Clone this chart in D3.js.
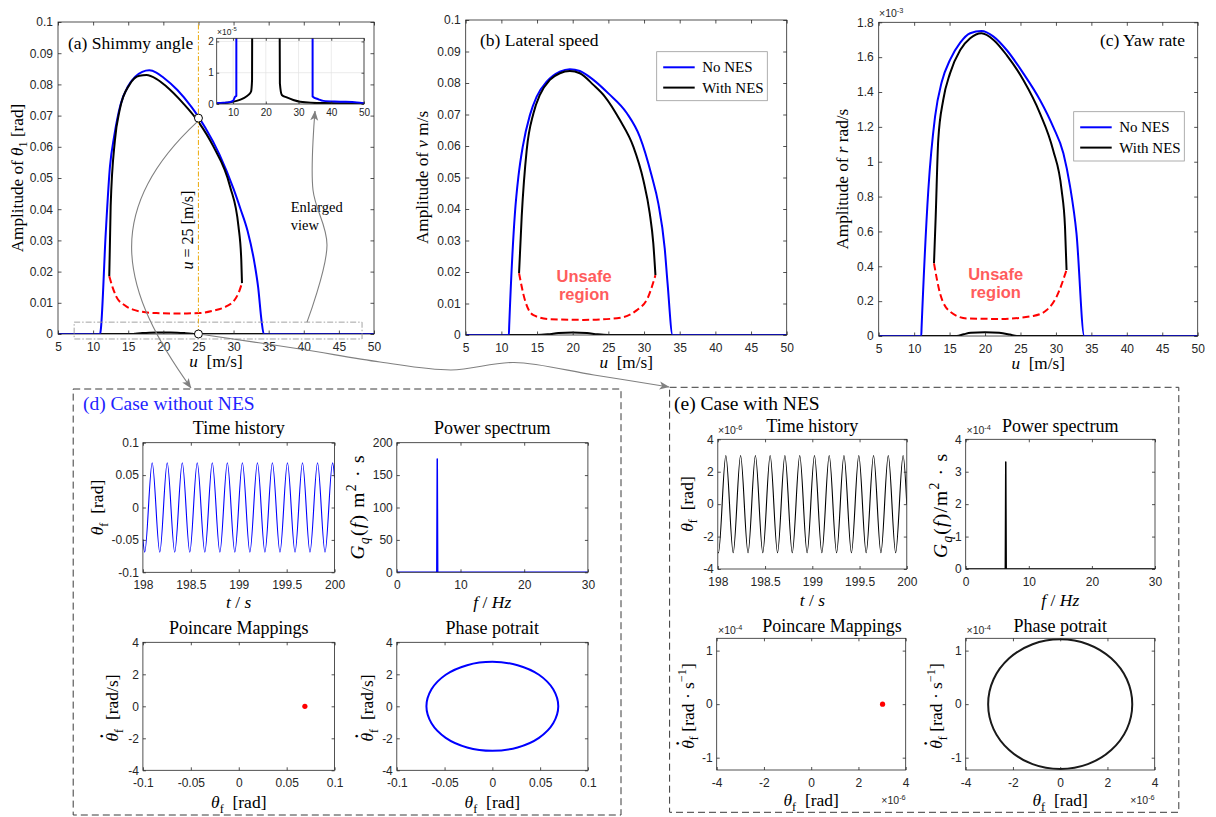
<!DOCTYPE html>
<html>
<head>
<meta charset="utf-8">
<title>Shimmy suppression with NES</title>
<script src="https://cdn.jsdelivr.net/npm/d3@7/dist/d3.min.js"></script>
<style>
  html, body { margin: 0; padding: 0; background: #fff; }
  svg { display: block; }
  text { white-space: pre; }
</style>
</head>
<body>
<script>
// ================= data =================
const speedTicks = [5, 10, 15, 20, 25, 30, 35, 40, 45, 50];
const amplitudeTicks = [0, 0.01, 0.02, 0.03, 0.04, 0.05, 0.06, 0.07, 0.08, 0.09, 0.1];
const yawTicks = [0, 0.2, 0.4, 0.6, 0.8, 1, 1.2, 1.4, 1.6, 1.8];       // x 1e-3
const insetSpeedTicks = [10, 20, 30, 40, 50];
const insetAmpTicks = [0, 1, 2];                                          // x 1e-5

// (a) shimmy angle amplitude [rad] vs forward speed u [m/s]
const shimmyNoNES_u   = [5, 7, 9, 10, 10.6, 11.0, 11.1, 11.8, 12.4, 13.0, 13.9, 15.0, 16.0, 17.0, 18.0, 19.0, 20.0, 22.0, 24.0, 25.0, 26.0, 28.0, 30.0, 31.0, 32.0, 33.0, 33.5, 34.0, 34.3, 36.1, 37.6, 42.7, 47.8, 50];
const shimmyNoNES_amp = [3e-7, 4e-7, 6e-7, 1.0e-6, 2.3e-6, 2.6e-6, 0.0015, 0.0324, 0.0537, 0.0634, 0.0735, 0.0795, 0.0825, 0.0840, 0.0845, 0.0838, 0.0822, 0.0782, 0.0728, 0.0696, 0.0660, 0.0575, 0.0465, 0.0400, 0.0330, 0.0225, 0.0150, 0.0040, 2.4e-6, 1.5e-6, 1.0e-6, 7.5e-7, 5e-7, 2e-7];
const shimmyNES_u     = [12.3, 12.5, 13.1, 13.8, 15.2, 16.6, 17.6, 19.0, 20.4, 22.8, 25.0, 27.1, 29.5, 30.7, 31.1, 31.2];
const shimmyNES_amp   = [0.0185, 0.0410, 0.0620, 0.0720, 0.0800, 0.0828, 0.0830, 0.0818, 0.0794, 0.0740, 0.0680, 0.0602, 0.0473, 0.0345, 0.0238, 0.0163];
const shimmyUnstable_u   = [12.3, 12.8, 13.3, 14.5, 15.7, 17, 19, 21, 23, 25.2, 27, 29, 30, 30.7, 31.2];
const shimmyUnstable_amp = [0.0185, 0.0148, 0.0120, 0.0092, 0.0078, 0.0071, 0.0067, 0.0066, 0.0066, 0.0067, 0.0074, 0.0089, 0.0105, 0.0131, 0.0163];
const shimmyNESlow_u   = [5, 8, 11.1, 13.1, 14.7, 15.5, 15.8, 16.0, 17, 18, 19, 20, 21, 22, 23, 24, 24.3, 24.9, 26.4, 28.4, 30.5, 37.6, 47.8, 50];
const shimmyNESlow_amp = [0, 4e-7, 1e-6, 1.8e-6, 2.9e-6, 4e-6, 7.7e-6, 1e-4, 3e-4, 4.4e-4, 5e-4, 5.2e-4, 5e-4, 4.4e-4, 3e-4, 1e-4, 6.6e-6, 2.9e-6, 2.1e-6, 1.3e-6, 7.5e-7, 3e-7, 2e-7, 1e-7];
const markedSpeed = 25;
const markedAmp = [0.0692, 0];
const enlargedWindow_u = [7.3, 48.3];
const enlargedWindow_amp = [-0.0016, 0.0038];

// (b) lateral speed amplitude [m/s]
const latNoNES_u   = [5, 11.05, 11.1, 11.9, 12.4, 13.0, 14.0, 14.95, 16.35, 18.2, 19.6, 21.0, 22.9, 25.0, 27.6, 29.4, 31.1, 32.0, 32.9, 33.3, 34.0, 50];
const latNoNES_amp = [0, 0, 0.003, 0.0386, 0.0505, 0.0598, 0.0698, 0.0757, 0.0804, 0.0836, 0.0844, 0.0838, 0.0810, 0.0767, 0.0704, 0.0630, 0.0503, 0.0418, 0.0275, 0.0164, 0, 0];
const latNES_u     = [12.48, 12.85, 13.55, 14.5, 15.4, 16.8, 18.2, 19.6, 21.0, 22.9, 24.5, 26.6, 28.5, 29.9, 30.8, 31.3, 31.6];
const latNES_amp   = [0.0196, 0.0376, 0.0587, 0.0704, 0.0762, 0.0810, 0.0831, 0.0838, 0.0831, 0.0794, 0.0757, 0.0683, 0.0598, 0.0492, 0.0386, 0.0291, 0.0190];
const latUnstable_u   = [12.48, 13.3, 14.5, 16.8, 21.5, 26.2, 29.0, 30.6, 31.6];
const latUnstable_amp = [0.0196, 0.0111, 0.0063, 0.0050, 0.0048, 0.0053, 0.0079, 0.0122, 0.0190];
const latNESlow_u   = [5, 15, 16.5, 18, 20, 22, 23.5, 25, 50];
const latNESlow_amp = [0, 0, 0.0002, 0.0006, 0.0008, 0.0006, 0.0002, 0, 0];

// (c) yaw rate amplitude [x 1e-3 rad/s]
const yawNoNES_u   = [5, 11.0, 11.05, 12.0, 12.95, 13.9, 15.06, 16.5, 17.9, 19.5, 21.2, 23.05, 25.4, 27.75, 29.6, 31.05, 32.0, 32.9, 34.0, 50];
const yawNoNES_amp = [0, 0, 0.05, 0.838, 1.259, 1.459, 1.584, 1.683, 1.737, 1.750, 1.718, 1.641, 1.507, 1.354, 1.201, 1.048, 0.857, 0.589, 0, 0];
const yawNES_u     = [12.8, 13.04, 13.4, 14.1, 15.06, 16.5, 17.9, 19.5, 21.2, 23.05, 25.4, 27.75, 29.6, 30.8, 31.28, 31.5];
const yawNES_amp   = [0.417, 0.685, 1.125, 1.354, 1.507, 1.641, 1.708, 1.737, 1.699, 1.612, 1.469, 1.278, 1.067, 0.838, 0.627, 0.379];
const yawUnstable_u   = [12.8, 13.65, 15.06, 17.4, 22.1, 26.8, 28.7, 30.1, 31.5];
const yawUnstable_amp = [0.417, 0.245, 0.140, 0.101, 0.098, 0.115, 0.149, 0.226, 0.379];
const yawNESlow_u   = [5, 16, 17, 18, 20, 22, 23.5, 24.5, 50];
const yawNESlow_amp = [0, 0, 0.01, 0.018, 0.022, 0.018, 0.008, 0, 0];

// (d) u = 25 m/s without NES
const timeTicks = [198, 198.5, 199, 199.5, 200];
const freqTicks = [0, 10, 20, 30];
const thetaTicksD = [-0.1, -0.05, 0, 0.05, 0.1];
const powerTicksD = [0, 50, 100, 150, 200];
const rateTicksD = [-4, -2, 0, 2, 4];
// time history: samples at the turning points of the response
const thetaNoNES_t = [198, 198.019, 198.097, 198.176, 198.254, 198.332, 198.411, 198.489, 198.567, 198.646, 198.724, 198.803, 198.881, 198.959, 199.038, 199.116, 199.195, 199.273, 199.351, 199.430, 199.508, 199.587, 199.665, 199.743, 199.822, 199.900, 199.979, 200];
const thetaNoNES_v = [-0.049, -0.069, 0.069, -0.069, 0.069, -0.069, 0.069, -0.069, 0.069, -0.069, 0.069, -0.069, 0.069, -0.069, 0.069, -0.069, 0.069, -0.069, 0.069, -0.069, 0.069, -0.069, 0.069, -0.069, 0.069, -0.069, 0.069, 0.046];
const specNoNES_f = [0, 6.28, 6.35, 6.42, 30];
const specNoNES_G = [0, 0, 175, 0, 0];
const poincNoNES_theta = [0.069];
const poincNoNES_rate = [0];
const phaseNoNES_theta = [0.069, 0.0637, 0.0488, 0.0264, 0, -0.0264, -0.0488, -0.0637, -0.069, -0.0637, -0.0488, -0.0264, 0, 0.0264, 0.0488, 0.0637];
const phaseNoNES_rate  = [0, -1.06, -1.97, -2.57, -2.78, -2.57, -1.97, -1.06, 0, 1.06, 1.97, 2.57, 2.78, 2.57, 1.97, 1.06];

// (e) u = 25 m/s with NES (theta in 1e-6 rad, rate in 1e-4 rad/s, power in 1e-4)
const thetaTicksE = [-4, -2, 0, 2, 4];
const powerTicksE = [0, 1, 2, 3, 4];
const rateTicksE = [-1, 0, 1];
const thetaNES_t = [198, 198.007, 198.085, 198.163, 198.241, 198.320, 198.398, 198.476, 198.554, 198.632, 198.710, 198.788, 198.867, 198.945, 199.023, 199.101, 199.179, 199.257, 199.335, 199.414, 199.492, 199.570, 199.648, 199.726, 199.804, 199.882, 199.961, 200];
const thetaNES_v = [-2.98, -3.0, 3.0, -3.0, 3.0, -3.0, 3.0, -3.0, 3.0, -3.0, 3.0, -3.0, 3.0, -3.0, 3.0, -3.0, 3.0, -3.0, 3.0, -3.0, 3.0, -3.0, 3.0, -3.0, 3.0, -3.0, 3.0, 0];
const specNES_f = [0, 6.28, 6.35, 6.42, 30];
const specNES_G = [0, 0, 3.3, 0, 0];
const poincNES_theta = [3.02];
const poincNES_rate = [0];
const phaseNES_theta = [3.05, 2.82, 2.16, 1.17, 0, -1.17, -2.16, -2.82, -3.05, -2.82, -2.16, -1.17, 0, 1.17, 2.16, 2.82];
const phaseNES_rate  = [0, -0.465, -0.856, -1.12, -1.21, -1.12, -0.856, -0.465, 0, 0.465, 0.856, 1.12, 1.21, 1.12, 0.856, 0.465];

// ================= drawing =================
const AX = "#262626";
const BLUE = "#0000ff";
const RED = "#ff0000";
const GRAY = "#808080";
const SERIF = '"Liberation Serif","Times New Roman",Times,serif';
const SANS = '"Liberation Sans",Arial,Helvetica,sans-serif';

const svg = d3.select("body").append("svg")
  .attr("width", 1216).attr("height", 817);
const defs = svg.append("defs");
defs.append("marker").attr("id", "arrowHead")
  .attr("viewBox", "0 0 10 10").attr("refX", 9.5).attr("refY", 5)
  .attr("markerWidth", 10).attr("markerHeight", 10)
  .attr("markerUnits", "userSpaceOnUse").attr("orient", "auto")
  .append("path").attr("d", "M0,1L10,5L0,9L2.5,5Z").attr("fill", GRAY);

let clipCount = 0;
function clipFor(x, y) {
  const id = "clip" + (clipCount++);
  const [x0, x1] = x.range(), [y0, y1] = y.range();
  defs.append("clipPath").attr("id", id).append("rect")
    .attr("x", x0).attr("y", y1).attr("width", x1 - x0).attr("height", y0 - y1);
  return `url(#${id})`;
}

// text with italic / sub / superscript pieces; a piece is "text" or [text, flags, dx, dy, scale]
function rich(parent, x, y, parts, size, o = {}) {
  const t = parent.append("text").attr("x", x).attr("y", y)
    .attr("font-family", o.family || SERIF).attr("font-size", size)
    .attr("text-anchor", o.anchor || "middle").attr("fill", o.fill || "#000");
  if (o.bold) t.attr("font-weight", "bold");
  if (o.rotate) t.attr("transform", `rotate(-90 ${x} ${y})`);
  if (o.len) t.attr("textLength", o.len).attr("lengthAdjust", "spacing");
  let off = 0;
  for (const p of parts) {
    const [s, st = "", dx = 0, ddy = 0, scale = 1] = Array.isArray(p) ? p : [p];
    const flags = st.split(" ");
    const ts = t.append("tspan").text(s);
    let target = ddy;
    if (flags.includes("sub")) target += size * 0.28;
    if (flags.includes("sup")) target -= size * 0.42;
    if (target !== off) ts.attr("dy", target - off);
    off = target;
    if (dx) ts.attr("dx", dx);
    if (flags.includes("sub") || flags.includes("sup")) ts.attr("font-size", size * 0.7);
    else if (scale !== 1) ts.attr("font-size", size * scale);
    if (flags.includes("i")) ts.attr("font-style", "italic");
  }
  return t;
}

function expLabel(parent, x, y, exp, size = 10.5, anchor = "start") {
  return rich(parent, x, y, ["\u00d710", [exp, "sup"]], size, { family: SANS, anchor, fill: AX });
}

// MATLAB-like box with inward ticks on all four sides
function axesBox(g, x, y, xt, yt, o = {}) {
  const tl = o.tl ?? 3.5, fs = o.fs ?? 12;
  const fmt = d => String(d);
  const [x0, x1] = x.range(), [y0, y1] = y.range();
  const parts = [
    g.append("g").attr("transform", `translate(0,${y0})`)
      .call(d3.axisBottom(x).tickValues(xt).tickFormat(fmt).tickSizeInner(-tl).tickSizeOuter(0).tickPadding(o.xpad ?? 8)),
    g.append("g").attr("transform", `translate(0,${y1})`)
      .call(d3.axisTop(x).tickValues(xt).tickFormat("").tickSizeInner(-tl).tickSizeOuter(0)),
    g.append("g").attr("transform", `translate(${x0},0)`)
      .call(d3.axisLeft(y).tickValues(yt).tickFormat(fmt).tickSizeInner(-tl).tickSizeOuter(0).tickPadding(o.ypad ?? 5)),
    g.append("g").attr("transform", `translate(${x1},0)`)
      .call(d3.axisRight(y).tickValues(yt).tickFormat("").tickSizeInner(-tl).tickSizeOuter(0))
  ];
  parts.forEach(a => {
    a.select(".domain").remove();
    a.attr("font-family", SANS).attr("font-size", fs);
    a.selectAll(".tick line").attr("stroke", AX).attr("stroke-width", 0.8);
    a.selectAll(".tick text").attr("fill", AX);
  });
  g.append("rect").attr("x", x0).attr("y", y1).attr("width", x1 - x0).attr("height", y0 - y1)
    .attr("fill", "none").attr("stroke", AX).attr("stroke-width", 0.8);
}

function curvePath(g, x, y, xs, ys, o) {
  const line = d3.line().x(d => x(d[0])).y(d => y(d[1])).curve(o.curve || d3.curveMonotoneX);
  return g.append("path").attr("d", line(d3.zip(xs, ys)))
    .attr("fill", "none").attr("stroke", o.color).attr("stroke-width", o.w ?? 2)
    .attr("stroke-dasharray", o.dash || null)
    .attr("stroke-linejoin", "round").attr("clip-path", o.clip || null);
}

function legend(g, bx, by, bw, bh, items) {
  g.append("rect").attr("x", bx).attr("y", by).attr("width", bw).attr("height", bh)
    .attr("fill", "#fff").attr("stroke", "#9a9a9a").attr("stroke-width", 0.8);
  items.forEach((it, i) => {
    const ly = by + 15.6 + i * 20.3;
    g.append("line").attr("x1", bx + 6.5).attr("x2", bx + 38).attr("y1", ly).attr("y2", ly)
      .attr("stroke", it.color).attr("stroke-width", 2);
    g.append("text").attr("x", bx + 45.5).attr("y", ly + 5).attr("font-family", SERIF)
      .attr("font-size", 15).attr("fill", "#000").text(it.label);
  });
}

// ---------- top row: amplitude vs speed ----------
function speedPanel(cfg) {
  const g = svg.append("g");
  const x = d3.scaleLinear().domain([5, 50]).range([cfg.x0, cfg.x1]);
  const y = d3.scaleLinear().domain(cfg.ydom).range([cfg.yb, cfg.yt]);
  const clip = clipFor(x, y);
  curvePath(g, x, y, cfg.low[0], cfg.low[1], { color: "#000", clip });
  curvePath(g, x, y, cfg.noNES[0], cfg.noNES[1], { color: BLUE, clip });
  curvePath(g, x, y, cfg.withNES[0], cfg.withNES[1], { color: "#000", clip });
  curvePath(g, x, y, cfg.unstable[0], cfg.unstable[1], { color: RED, dash: "7,3.5", clip });
  axesBox(g, x, y, speedTicks, cfg.yticks);
  rich(g, (cfg.x0 + cfg.x1) / 2, cfg.yb + 33, [["u", "i"], "  [m/s]"], 17.2);
  rich(g, cfg.ylabX, (cfg.yb + cfg.yt) / 2, cfg.ylab, 17.2, { rotate: true });
  return { g, x, y };
}

const A = speedPanel({
  x0: 58, x1: 374, yb: 334, yt: 22, ydom: [0, 0.1], yticks: amplitudeTicks, ylabX: 22.6,
  ylab: ["Amplitude of ", ["\u03b8", "i"], ["1", "sub"], " [rad]"],
  low: [shimmyNESlow_u, shimmyNESlow_amp], noNES: [shimmyNoNES_u, shimmyNoNES_amp],
  withNES: [shimmyNES_u, shimmyNES_amp], unstable: [shimmyUnstable_u, shimmyUnstable_amp]
});
const B = speedPanel({
  x0: 465.7, x1: 786.7, yb: 335, yt: 20, ydom: [0, 0.1], yticks: amplitudeTicks, ylabX: 427.5,
  ylab: ["Amplitude of ", ["v", "i"], " m/s"],
  low: [latNESlow_u, latNESlow_amp], noNES: [latNoNES_u, latNoNES_amp],
  withNES: [latNES_u, latNES_amp], unstable: [latUnstable_u, latUnstable_amp]
});
const C = speedPanel({
  x0: 878.7, x1: 1197.7, yb: 336, yt: 22.3, ydom: [0, 1.8], yticks: yawTicks, ylabX: 848,
  ylab: ["Amplitude of ", ["r", "i"], " rad/s"],
  low: [yawNESlow_u, yawNESlow_amp], noNES: [yawNoNES_u, yawNoNES_amp],
  withNES: [yawNES_u, yawNES_amp], unstable: [yawUnstable_u, yawUnstable_amp]
});
expLabel(C.g, 879, 17, "-3");

// panel titles
rich(A.g, 68, 49, ["(a) Shimmy angle"], 17.5, { anchor: "start" });
rich(B.g, 480, 46, ["(b) Lateral speed"], 17.5, { anchor: "start" });
rich(C.g, 1185, 46, ["(c) Yaw rate"], 17.5, { anchor: "end" });

// legends
legend(B.g, 656.7, 51.7, 110.6, 49, [{ label: "No NES", color: BLUE }, { label: "With NES", color: "#000" }]);
legend(C.g, 1073.7, 111.7, 110.6, 49.3, [{ label: "No NES", color: BLUE }, { label: "With NES", color: "#000" }]);

// unstable-branch annotations
[[B, 21.6, 0.0168], [C, 21.5, 0.321]].forEach(([P, u, a]) => {
  const t = P.g.append("text").attr("x", P.x(u)).attr("y", P.y(a))
    .attr("font-family", SANS).attr("font-weight", "bold").attr("font-size", 16.5)
    .attr("fill", "#ff5c5c").attr("text-anchor", "middle");
  t.append("tspan").attr("x", P.x(u)).text("Unsafe");
  t.append("tspan").attr("x", P.x(u)).attr("dy", 18).text("region");
});

// (a): u = 25 m/s marker line, enlarged window and inset
A.g.append("line").attr("x1", A.x(markedSpeed)).attr("x2", A.x(markedSpeed))
  .attr("y1", A.y(0)).attr("y2", A.y(0.1))
  .attr("stroke", "#EDB120").attr("stroke-width", 1.1).attr("stroke-dasharray", "5,2,1.5,2");
rich(A.g, 193, 230, [["u", "i"], " = 25 [m/s]"], 16, { rotate: true });

A.g.append("rect")
  .attr("x", A.x(enlargedWindow_u[0])).attr("y", A.y(enlargedWindow_amp[1]))
  .attr("width", A.x(enlargedWindow_u[1]) - A.x(enlargedWindow_u[0]))
  .attr("height", A.y(enlargedWindow_amp[0]) - A.y(enlargedWindow_amp[1]))
  .attr("fill", "none").attr("stroke", "#9a9a9a").attr("stroke-width", 0.9)
  .attr("stroke-dasharray", "6,2,1.5,2");

rich(A.g, 290.7, 211.7, ["Enlarged"], 14.5, { anchor: "start" });
rich(A.g, 290.7, 230, ["view"], 14.5, { anchor: "start" });

// inset: low-amplitude branches magnified (x 1e-5 rad)
{
  const g = A.g.append("g");
  const x = d3.scaleLinear().domain([5, 50]).range([216.7, 364]);
  const y = d3.scaleLinear().domain([0, 2.1]).range([104, 38.3]);
  g.append("rect").attr("x", 216.7).attr("y", 38.3).attr("width", 364 - 216.7).attr("height", 104 - 38.3).attr("fill", "#fff");
  insetSpeedTicks.forEach(v => g.append("line").attr("x1", x(v)).attr("x2", x(v)).attr("y1", y(0)).attr("y2", y(2.1))
    .attr("stroke", "#e3e3e3").attr("stroke-width", 0.7));
  insetAmpTicks.forEach(v => g.append("line").attr("x1", x(5)).attr("x2", x(50)).attr("y1", y(v)).attr("y2", y(v))
    .attr("stroke", "#e3e3e3").attr("stroke-width", 0.7));
  const clip = clipFor(x, y);
  const s = arr => arr.map(v => v * 1e5);
  curvePath(g, x, y, shimmyNESlow_u, s(shimmyNESlow_amp), { color: "#000", clip });
  curvePath(g, x, y, shimmyNES_u, s(shimmyNES_amp), { color: "#000", clip });
  curvePath(g, x, y, shimmyNoNES_u, s(shimmyNoNES_amp), { color: BLUE, clip });
  axesBox(g, x, y, insetSpeedTicks, insetAmpTicks, { tl: 2.5, fs: 10, xpad: 5, ypad: 3 });
  expLabel(g, 217, 35, "-5", 8.5);
}

// marked operating points
markedAmp.forEach(a => {
  A.g.append("circle").attr("cx", A.x(markedSpeed)).attr("cy", A.y(a)).attr("r", 4)
    .attr("fill", "#fff").attr("stroke", "#000").attr("stroke-width", 1);
});

// ---------- bottom row: response at u = 25 m/s ----------
function dashedBox(x0, y0, x1, y1) {
  svg.append("rect").attr("x", x0).attr("y", y0).attr("width", x1 - x0).attr("height", y1 - y0)
    .attr("fill", "none").attr("stroke", "#3a3a3a").attr("stroke-width", 1).attr("stroke-dasharray", "7,4");
}
dashedBox(73.2, 389, 621, 815);
dashedBox(669.6, 387.3, 1178.8, 812.3);
rich(svg, 83, 410, ["(d) Case without NES"], 19.5, { anchor: "start", fill: "#1f1fff" });
rich(svg, 674, 410, ["(e) Case with NES"], 19.5, { anchor: "start" });

function subPlot(cfg) {
  const g = svg.append("g");
  const x = d3.scaleLinear().domain(cfg.xdom).range([cfg.x0, cfg.x1]);
  const y = d3.scaleLinear().domain(cfg.ydom).range([cfg.yb, cfg.yt]);
  const clip = clipFor(x, y);
  if (cfg.line) curvePath(g, x, y, cfg.line[0], cfg.line[1], { color: cfg.color, w: cfg.w, curve: cfg.curve, clip });
  if (cfg.dots) d3.zip(cfg.dots[0], cfg.dots[1]).forEach(d =>
    g.append("circle").attr("cx", x(d[0])).attr("cy", y(d[1])).attr("r", 2.6).attr("fill", RED));
  axesBox(g, x, y, cfg.xt, cfg.yt_, { tl: 3, xpad: 8, ypad: 4 });
  rich(g, cfg.titleX ?? (cfg.x0 + cfg.x1) / 2, cfg.titleY, [cfg.title], 18);
  rich(g, (cfg.x0 + cfg.x1) / 2, cfg.xlabY, cfg.xlab, 17.5);
  rich(g, cfg.ylabX, cfg.ylabY ?? (cfg.yb + cfg.yt) / 2, cfg.ylab, cfg.ylabSize ?? 17.5, { rotate: true, len: cfg.ylabLen });
  return { g, x, y };
}

const thetaLab = [["\u03b8", "i"], ["f", "sub"], "  [rad]"];
const tLab = [["t", "i"], " / ", ["s", "i"]];
const fLab = [["f", "i"], " / ", ["Hz", "i"]];
// theta with a dot above (time derivative)
const thetaDot = [["\u03b8", "i"], ["\u02d9", "", -7.2, -1, 1.4]];
const rateLabD = [...thetaDot, ["f", "sub", -0.9], "  [rad/s]"];
const rateLabE = [...thetaDot, ["f", "sub", -0.9], " [rad \u00b7 s", ["\u22121", "sup"], "]"];

// (d)
subPlot({ x0: 142.9, x1: 334.6, yb: 572.3, yt: 442.7, xdom: [198, 200], ydom: [-0.1, 0.1],
  xt: timeTicks, yt_: thetaTicksD, line: [thetaNoNES_t, thetaNoNES_v], color: BLUE, w: 1.1,
  title: "Time history", titleY: 434, xlab: tLab, xlabY: 608, ylab: thetaLab, ylabX: 103 });
subPlot({ x0: 396.8, x1: 587.9, yb: 572.3, yt: 442.7, xdom: [0, 30], ydom: [0, 200],
  xt: freqTicks, yt_: powerTicksD, line: [specNoNES_f, specNoNES_G], color: BLUE, w: 1.5, curve: d3.curveLinear,
  title: "Power spectrum", titleY: 434, xlab: fLab, xlabY: 608,
  ylab: [["G", "i"], ["q", "i sub"], "(", ["f", "i"], ") m", ["2", "sup"], " \u00b7 s"], ylabX: 364, ylabSize: 19.5, ylabLen: 104 });
subPlot({ x0: 142.9, x1: 334.6, yb: 770.3, yt: 642.3, xdom: [-0.1, 0.1], ydom: [-4, 4],
  xt: thetaTicksD, yt_: rateTicksD, dots: [poincNoNES_theta, poincNoNES_rate],
  title: "Poincare Mappings", titleY: 634, xlab: thetaLab, xlabY: 808, ylab: rateLabD, ylabX: 118, ylabY: 708 });
subPlot({ x0: 396.8, x1: 587.9, yb: 770.3, yt: 642.3, xdom: [-0.1, 0.1], ydom: [-4, 4],
  xt: thetaTicksD, yt_: rateTicksD, line: [phaseNoNES_theta, phaseNoNES_rate], color: BLUE, w: 2,
  curve: d3.curveCatmullRomClosed,
  title: "Phase potrait", titleY: 634, xlab: thetaLab, xlabY: 808, ylab: rateLabD, ylabX: 373, ylabY: 708 });

// (e)
const eT = subPlot({ x0: 717.8, x1: 906.8, yb: 569, yt: 439.3, xdom: [198, 200], ydom: [-4, 4],
  xt: timeTicks, yt_: thetaTicksE, line: [thetaNES_t, thetaNES_v], color: "#000", w: 1.1,
  title: "Time history", titleY: 432, xlab: tLab, xlabY: 606, ylab: thetaLab, ylabX: 692.5, ylabY: 504 });
expLabel(eT.g, 718, 434, "-6");
const eP = subPlot({ x0: 965.7, x1: 1155, yb: 569, yt: 439.3, xdom: [0, 30], ydom: [0, 4],
  xt: freqTicks, yt_: powerTicksE, line: [specNES_f, specNES_G], color: "#000", w: 1.5, curve: d3.curveLinear,
  title: "Power spectrum", titleY: 432, xlab: fLab, xlabY: 606,
  ylab: [["G", "i"], ["q", "i sub"], "(", ["f", "i"], ")/m", ["2", "sup"], " \u00b7 s"], ylabX: 947, ylabY: 506, ylabSize: 19.5, ylabLen: 104 });
expLabel(eP.g, 966.5, 434, "-4");
const eM = subPlot({ x0: 716.7, x1: 905.7, yb: 770, yt: 638.3, xdom: [-4, 4], ydom: [-1.23, 1.23],
  xt: thetaTicksE, yt_: rateTicksE, dots: [poincNES_theta, poincNES_rate],
  title: "Poincare Mappings", titleX: 832, titleY: 632, xlab: thetaLab, xlabY: 806, ylab: rateLabE, ylabX: 693.5, ylabY: 706 });
expLabel(eM.g, 718, 634, "-4");
expLabel(eM.g, 905.7, 804, "-6", 10.5, "end");
const eF = subPlot({ x0: 965.7, x1: 1154.7, yb: 770, yt: 638.3, xdom: [-4, 4], ydom: [-1.23, 1.23],
  xt: thetaTicksE, yt_: rateTicksE, line: [phaseNES_theta, phaseNES_rate], color: "#1a1a1a", w: 2,
  curve: d3.curveCatmullRomClosed,
  title: "Phase potrait", titleY: 632, xlab: thetaLab, xlabY: 806, ylab: rateLabE, ylabX: 942, ylabY: 706 });
expLabel(eF.g, 966.5, 634, "-4");
expLabel(eF.g, 1154.7, 804, "-6", 10.5, "end");

// ---------- connectors ----------
const conn = svg.append("g").attr("fill", "none").attr("stroke", GRAY).attr("stroke-width", 1.1);
{
  // operating point on the large-amplitude branch -> case without NES
  const p = d3.path();
  const sx = A.x(markedSpeed), sy = A.y(markedAmp[0]) + 4;
  p.moveTo(sx - 1.5, sy);
  p.bezierCurveTo(100, 212, 122, 292, 191, 388);
  conn.append("path").attr("d", p.toString()).attr("marker-end", "url(#arrowHead)");

  // operating point on the low-amplitude branch -> case with NES
  const pts = [[A.x(markedSpeed) + 4, A.y(markedAmp[1]) + 0.5], [300, 349], [380, 362], [451, 370], [514, 362.5], [594, 375], [669, 387]];
  conn.append("path").attr("d", d3.line().curve(d3.curveCatmullRom)(pts)).attr("marker-end", "url(#arrowHead)");

  // enlarged window -> inset
  const top = A.y(enlargedWindow_amp[1]);
  const pts2 = [[307, top], [327, 245], [313, 190], [315, 111]];
  conn.append("path").attr("d", d3.line().curve(d3.curveCatmullRom)(pts2)).attr("marker-end", "url(#arrowHead)");
}
</script>
</body>
</html>
